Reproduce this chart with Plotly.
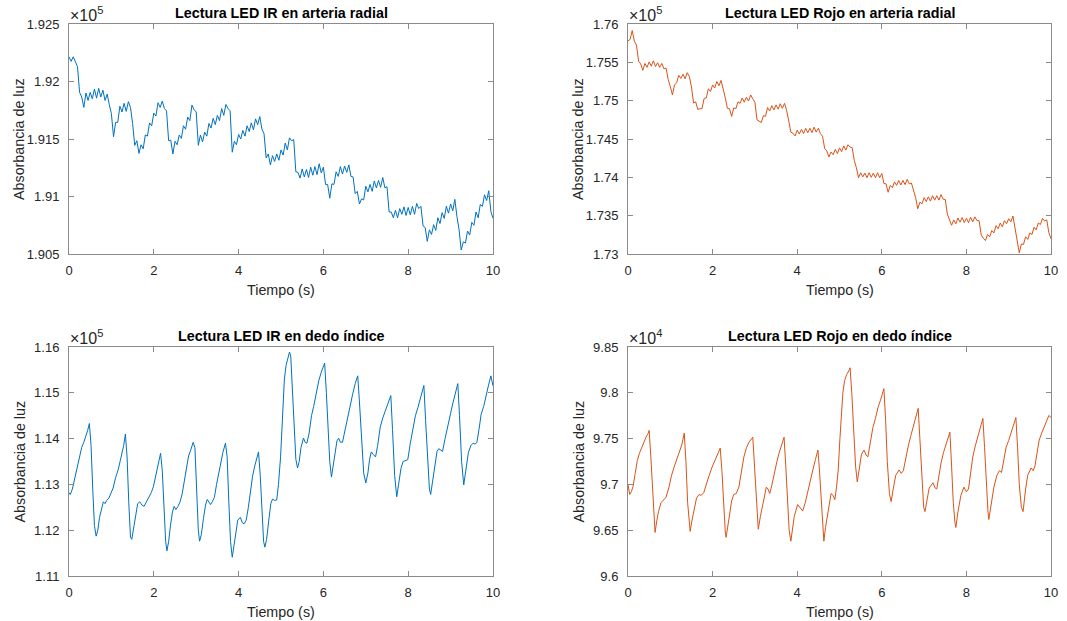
import numpy as np
import plotly.graph_objects as go

W, H = 1067, 621

# ---------------- DATA ----------------
# Time grid (s) for the radial-artery recordings
t_radial = np.linspace(0, 10, 201)

# LED IR, radial artery (raw absorbance)
ir_radial = [
    192215,192175,192215,192175,192130,191905,191865,191775,191900,191835,
    191905,191850,191935,191855,191940,191865,191925,191835,191890,191800,
    191720,191520,191645,191645,191785,191735,191810,191740,191825,191775,
    191635,191445,191485,191375,191450,191415,191535,191525,191640,191615,
    191725,191700,191815,191775,191830,191765,191745,191485,191490,191370,
    191480,191450,191535,191505,191615,191585,191690,191660,191795,191755,
    191735,191445,191535,191475,191560,191525,191635,191595,191680,191625,
    191705,191660,191765,191705,191800,191765,191745,191385,191480,191450,
    191540,191500,191575,191525,191615,191565,191640,191580,191675,191625,
    191695,191585,191545,191335,191370,191275,191355,191305,191370,191315,
    191405,191360,191465,191405,191510,191485,191495,191215,191210,191160,
    191240,191170,191235,191165,191255,191185,191260,191190,191285,191205,
    191255,191105,191105,190985,191110,191105,191215,191175,191260,191195,
    191265,191210,191275,191175,191170,191025,191045,190935,190980,190970,
    191090,191040,191105,191045,191135,191075,191140,191080,191165,191075,
    191085,190865,190865,190815,190880,190815,190895,190845,190910,190835,
    190905,190840,190915,190845,190940,190895,190915,190745,190730,190610,
    190710,190670,190755,190705,190815,190765,190860,190810,190915,190855,
    190935,190875,190975,190825,190710,190535,190605,190595,190700,190665,
    190775,190750,190865,190815,190930,190915,191015,190965,191050,190870,
    190810,
]

# LED Rojo, radial artery (raw absorbance)
red_radial = [
    175780,175800,175915,175775,175725,175515,175480,175395,175485,175435,
    175505,175450,175520,175445,175495,175435,175485,175415,175425,175275,
    175185,175075,175205,175235,175330,175290,175345,175285,175365,175315,
    175180,174970,174985,174885,174895,174895,175030,175035,175155,175120,
    175205,175165,175250,175195,175265,175125,175035,174900,174895,174795,
    174905,174895,174985,174965,175035,174980,175045,174995,175075,175025,
    174980,174750,174735,174715,174805,174795,174910,174865,174935,174880,
    174945,174890,174960,174900,174965,174875,174735,174590,174575,174540,
    174615,174565,174625,174570,174640,174582,174640,174583,174655,174590,
    174640,174570,174535,174375,174345,174265,174330,174295,174365,174310,
    174385,174335,174410,174355,174425,174395,174385,174220,174125,173995,
    174060,174005,174055,173995,174060,174000,174055,173995,174060,173995,
    174050,173920,173915,173805,173895,173865,173940,173895,173960,173900,
    173960,173905,173975,173915,173925,173825,173735,173590,173675,173655,
    173735,173685,173745,173690,173760,173702,173760,173703,173775,173715,
    173710,173520,173455,173375,173445,173395,173470,173415,173475,173410,
    173465,173410,173480,173420,173485,173435,173435,173250,173205,173175,
    173255,173225,173305,173275,173370,173330,173405,173355,173435,173395,
    173460,173420,173495,173325,173205,173015,173130,173125,173225,173190,
    173275,173255,173350,173315,173405,173385,173465,173430,173445,173275,
    173200,
]

# LED IR, index finger
t_ir_finger = [
    0.00,0.03,0.08,0.13,0.18,0.24,0.30,0.35,0.40,0.44,0.48,0.52,0.56,0.60,0.64,0.68,0.72,0.77,0.81,0.85,
    0.89,0.94,0.99,1.04,1.10,1.16,1.21,1.25,1.29,1.33,1.37,1.41,1.45,1.48,1.52,1.57,1.62,1.67,1.72,1.77,
    1.83,1.88,1.94,1.99,2.04,2.09,2.13,2.16,2.20,2.24,2.28,2.31,2.35,2.39,2.44,2.48,2.52,2.57,2.62,2.67,
    2.72,2.77,2.82,2.87,2.93,2.97,3.01,3.05,3.08,3.12,3.17,3.22,3.26,3.30,3.34,3.38,3.43,3.48,3.53,3.58,
    3.63,3.69,3.73,3.77,3.81,3.85,3.89,3.93,3.98,4.04,4.09,4.13,4.18,4.23,4.28,4.33,4.38,4.42,4.47,4.51,
    4.55,4.59,4.62,4.66,4.71,4.76,4.80,4.85,4.90,4.94,4.99,5.04,5.08,5.12,5.17,5.20,5.23,5.27,5.31,5.35,
    5.39,5.43,5.47,5.53,5.57,5.61,5.66,5.72,5.77,5.83,5.89,5.95,6.00,6.03,6.07,6.11,6.15,6.19,6.23,6.28,
    6.32,6.36,6.40,6.45,6.51,6.57,6.63,6.69,6.75,6.81,6.85,6.90,6.95,7.00,7.05,7.09,7.13,7.18,7.23,7.28,
    7.34,7.40,7.46,7.52,7.59,7.63,7.68,7.73,7.78,7.83,7.88,7.94,7.99,8.05,8.11,8.17,8.23,8.30,8.37,8.41,
    8.46,8.50,8.53,8.58,8.63,8.68,8.72,8.77,8.81,8.87,8.94,9.00,9.05,9.11,9.17,9.21,9.26,9.31,9.36,9.42,
    9.48,9.53,9.58,9.62,9.67,9.72,9.78,9.83,9.89,9.95,9.98,10.00,
]
ir_finger = [
    112820,112780,112900,113100,113320,113580,113810,113920,114050,114180,114330,113850,112900,112100,111870,112000,112280,112480,112620,112580,
    112650,112700,112820,112920,113150,113320,113520,113680,113850,114100,113600,112600,111850,111800,112000,112300,112580,112620,112550,112520,
    112620,112700,112820,112950,113180,113380,113550,113680,113300,112400,111750,111550,111750,112080,112400,112520,112450,112520,112620,112800,
    113100,113320,113620,113750,113920,113800,112900,112000,111760,111900,112250,112550,112670,112620,112560,112620,112720,113000,113250,113500,
    113700,113900,113600,112600,111750,111410,111650,111950,112220,112280,112160,112140,112220,112500,112900,113180,113400,113560,113710,113200,
    112300,111750,111630,111800,112200,112580,112680,112650,112660,113000,113600,114600,115300,115600,115800,115890,115800,115100,114200,113550,
    113360,113500,113800,114010,113920,113900,114100,114500,114700,115000,115260,115450,115580,115650,115000,114200,113500,113160,113400,113750,
    113950,114010,113920,113920,114200,114460,114750,114970,115200,115370,114800,113900,113250,113030,113250,113550,113710,113650,113600,113850,
    114250,114450,114600,114750,114940,114200,113200,112730,113000,113350,113500,113520,113540,113900,114250,114500,114680,114950,115160,114400,
    113400,112900,112780,113100,113500,113720,113780,113750,113720,114000,114330,114550,114760,114980,115200,114500,113500,112990,113300,113700,
    113850,113900,113880,113920,114200,114530,114700,114940,115150,115370,115200,115150,
]

# LED Rojo, index finger
t_red_finger = [
    0.00,0.04,0.08,0.12,0.17,0.22,0.27,0.32,0.39,0.44,0.48,0.50,0.54,0.58,0.62,0.64,0.68,0.72,0.78,0.84,
    0.90,0.97,1.03,1.09,1.15,1.21,1.27,1.33,1.37,1.41,1.45,1.47,1.51,1.56,1.62,1.68,1.73,1.79,1.85,1.92,
    1.98,2.03,2.09,2.14,2.18,2.22,2.26,2.30,2.32,2.36,2.40,2.45,2.50,2.56,2.62,2.68,2.74,2.80,2.86,2.95,
    2.99,3.03,3.06,3.08,3.13,3.20,3.27,3.31,3.35,3.40,3.46,3.52,3.57,3.63,3.69,3.73,3.77,3.81,3.85,3.89,
    3.93,4.01,4.07,4.13,4.19,4.25,4.31,4.37,4.43,4.49,4.52,4.56,4.60,4.63,4.67,4.73,4.80,4.85,4.89,4.93,
    4.97,5.01,5.04,5.08,5.12,5.17,5.22,5.25,5.29,5.33,5.38,5.42,5.47,5.52,5.58,5.63,5.67,5.73,5.79,5.85,
    5.91,5.97,6.02,6.05,6.09,6.13,6.18,6.22,6.27,6.33,6.41,6.46,6.51,6.57,6.62,6.68,6.74,6.80,6.86,6.90,
    6.95,6.99,7.02,7.07,7.12,7.21,7.26,7.30,7.35,7.40,7.46,7.52,7.58,7.61,7.65,7.69,7.73,7.75,7.80,7.87,
    7.94,8.00,8.05,8.10,8.15,8.21,8.27,8.33,8.39,8.43,8.47,8.51,8.53,8.58,8.65,8.72,8.78,8.83,8.88,8.94,
    9.00,9.06,9.12,9.17,9.21,9.25,9.30,9.34,9.40,9.45,9.53,9.58,9.62,9.67,9.72,9.78,9.84,9.90,9.95,10.00,
]
red_finger = [
    96996,96890,96920,96980,97120,97260,97340,97400,97483,97530,97560,97590,97300,96900,96560,96476,96600,96700,96800,96830,
    96860,96970,97100,97190,97270,97340,97430,97560,97250,96800,96530,96487,96600,96720,96850,96890,96880,96910,97010,97100,
    97180,97234,97300,97350,97396,97150,96750,96480,96422,96550,96700,96820,96890,96900,96970,97120,97300,97400,97461,97515,
    97200,96800,96560,96510,96650,96820,96970,96950,96900,96990,97130,97250,97340,97430,97515,97200,96800,96500,96380,96520,
    96650,96780,96750,96710,96800,96930,97050,97158,97270,97375,97200,96850,96500,96380,96530,96700,96900,96880,96833,96970,
    97158,97500,97775,98000,98132,98200,98240,98273,98000,97600,97200,97028,97200,97330,97375,97320,97300,97450,97623,97720,
    97840,97920,98000,98045,97700,97250,96900,96812,96950,97100,97158,97120,97150,97300,97407,97520,97623,97720,97830,97500,
    97000,96750,96703,96850,96960,97017,96960,96950,97100,97234,97350,97450,97520,97570,97200,96800,96580,96530,96700,96880,
    96970,96920,96950,97100,97300,97420,97515,97620,97720,97400,97000,96700,96617,96780,96970,97100,97150,97130,97250,97407,
    97480,97570,97650,97730,97400,97000,96750,96703,96950,97100,97180,97150,97200,97350,97483,97560,97623,97700,97753,97730,
]

x_ticks = [0, 2, 4, 6, 8, 10]
ir_radial_ticks = ["1.905", "1.91", "1.915", "1.92", "1.925"]
red_radial_ticks = ["1.73", "1.735", "1.74", "1.745", "1.75", "1.755", "1.76"]
ir_finger_ticks = ["1.11", "1.12", "1.13", "1.14", "1.15", "1.16"]
red_finger_ticks = ["9.6", "9.65", "9.7", "9.75", "9.8", "9.85"]

titles = ["Lectura LED IR en arteria radial", "Lectura LED Rojo en arteria radial",
          "Lectura LED IR en dedo índice", "Lectura LED Rojo en dedo índice"]
exponents = [5, 5, 5, 4]

# ---------------- STYLE ----------------
BLUE = "#0072BD"
ORANGE = "#D95319"
AX = "#8a8a8a"
TXT = "#262626"
FONT = "Liberation Sans, Arial, Helvetica, sans-serif"

# pixel boxes of the four axes: (left, right, top, bottom)
boxes = [(69, 493, 24, 254), (628, 1051, 24, 254), (69, 493, 347, 576), (628, 1051, 347, 576)]

def xdom(b):
    return [b[0] / W, b[1] / W]

def ydom(b):
    return [1 - b[3] / H, 1 - b[2] / H]

fig = go.Figure()
series = [
    (t_radial, ir_radial, BLUE),
    (t_radial, red_radial, ORANGE),
    (t_ir_finger, ir_finger, BLUE),
    (t_red_finger, red_finger, ORANGE),
]
for i, (tx, vy, col) in enumerate(series):
    fig.add_trace(go.Scatter(x=tx, y=vy, mode="lines", line=dict(color=col, width=1),
                             xaxis="x" if i == 0 else f"x{i+1}",
                             yaxis="y" if i == 0 else f"y{i+1}",
                             showlegend=False))

ytick_sets = [ir_radial_ticks, red_radial_ticks, ir_finger_ticks, red_finger_ticks]

layout = dict(width=W, height=H, autosize=False, margin=dict(l=0, r=0, t=0, b=0, pad=0),
              paper_bgcolor="white", plot_bgcolor="white",
              font=dict(family=FONT, color=TXT, size=13), annotations=[])

for i, b in enumerate(boxes):
    sfx = "" if i == 0 else str(i + 1)
    labels = ytick_sets[i]
    scale = 10 ** exponents[i]
    yvals = [round(float(s) * scale, 6) for s in labels]
    common = dict(showline=True, linecolor=AX, linewidth=1, mirror="ticks",
                  ticks="inside", ticklen=5, tickcolor=AX, tickwidth=1,
                  showgrid=False, zeroline=False, automargin=False,
                  tickfont=dict(family=FONT, size=13, color=TXT))
    layout["xaxis" + sfx] = dict(domain=xdom(b), range=[0, 10], tickvals=x_ticks,
                                 ticktext=[str(v) for v in x_ticks], ticklabelstandoff=4,
                                 anchor="y" + sfx, **common)
    layout["yaxis" + sfx] = dict(domain=ydom(b), range=[yvals[0], yvals[-1]], tickvals=yvals,
                                 ticktext=labels, ticklabelstandoff=6, anchor="x" + sfx, **common)
    cx = (b[0] + b[1]) / 2 / W
    cy = 1 - (b[2] + b[3]) / 2 / H
    ann = layout["annotations"]
    ann.append(dict(text=f"<b>{titles[i]}</b>", x=cx, y=1 - (b[2] - 11) / H, xref="paper", yref="paper",
                    xanchor="center", yanchor="middle", showarrow=False,
                    font=dict(family=FONT, size=14.3, color="#000000")))
    ann.append(dict(text=f"×10<sup>{exponents[i]}</sup>", x=(b[0] - 1) / W, y=1 - (b[2] - 10) / H,
                    xref="paper", yref="paper", xanchor="left", yanchor="middle", showarrow=False,
                    font=dict(family=FONT, size=16, color=TXT)))
    ann.append(dict(text="Tiempo (s)", x=cx, y=1 - (b[3] + 36) / H, xref="paper", yref="paper",
                    xanchor="center", yanchor="middle", showarrow=False,
                    font=dict(family=FONT, size=14.3, color=TXT)))
    ann.append(dict(text="Absorbancia de luz", x=(b[0] - 50) / W, y=cy, xref="paper", yref="paper",
                    xanchor="center", yanchor="middle", textangle=-90, showarrow=False,
                    font=dict(family=FONT, size=14.3, color=TXT)))

fig.update_layout(**layout)
fig.write_html("out.html")
